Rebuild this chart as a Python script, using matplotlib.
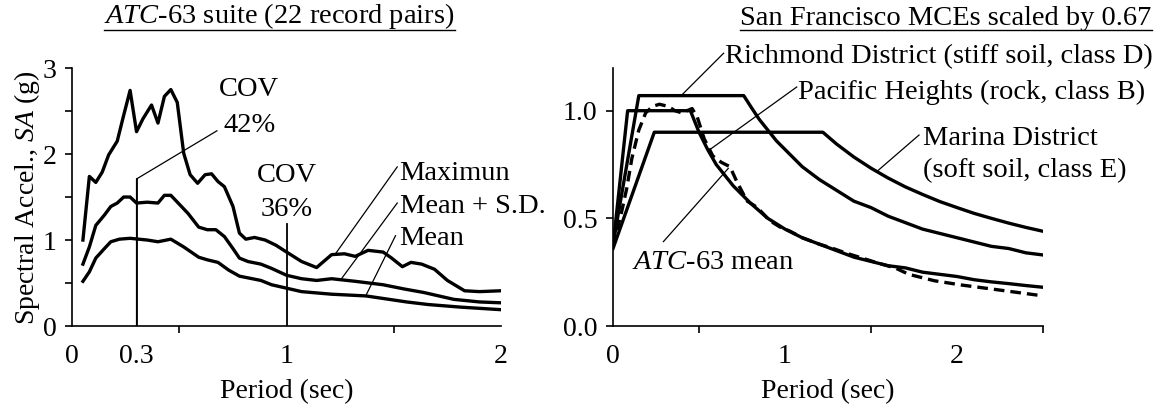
import matplotlib
matplotlib.use("Agg")
import matplotlib.pyplot as plt
from matplotlib.lines import Line2D

plt.rcParams['font.family'] = 'Liberation Serif'
plt.rcParams['mathtext.fontset'] = 'custom'
plt.rcParams['mathtext.rm'] = 'Liberation Serif'
plt.rcParams['mathtext.it'] = 'Liberation Serif:italic'

# ---- left panel: ATC-63 suite spectra ----
t_max = [0.05, 0.08, 0.11, 0.14, 0.17, 0.21, 0.24, 0.27, 0.30, 0.33, 0.37, 0.40,
         0.43, 0.46, 0.49, 0.52, 0.55, 0.585, 0.62, 0.65, 0.68, 0.71, 0.75, 0.78,
         0.81, 0.85, 0.90, 0.95, 1.00, 1.07, 1.14, 1.21, 1.27, 1.32, 1.38, 1.45,
         1.49, 1.54, 1.58, 1.63, 1.69, 1.75, 1.83, 1.90, 2.00]
sa_max = [1.00, 1.74, 1.67, 1.79, 1.99, 2.15, 2.45, 2.74, 2.26, 2.41, 2.57, 2.36,
          2.67, 2.75, 2.60, 2.01, 1.76, 1.66, 1.76, 1.77, 1.68, 1.62, 1.39, 1.08,
          1.01, 1.03, 1.00, 0.94, 0.86, 0.75, 0.68, 0.83, 0.84, 0.81, 0.88, 0.86,
          0.79, 0.69, 0.74, 0.72, 0.66, 0.53, 0.41, 0.40, 0.41]

t_msd = [0.05, 0.08, 0.11, 0.15, 0.18, 0.21, 0.24, 0.27, 0.30, 0.35, 0.40, 0.43,
         0.46, 0.54, 0.59, 0.63, 0.67, 0.71, 0.75, 0.78, 0.82, 0.88, 0.93, 1.00,
         1.07, 1.14, 1.21, 1.32, 1.45, 1.55, 1.64, 1.78, 1.90, 2.00]
sa_msd = [0.72, 0.92, 1.17, 1.29, 1.39, 1.43, 1.50, 1.50, 1.43, 1.44, 1.43, 1.52,
          1.52, 1.31, 1.15, 1.12, 1.12, 1.04, 0.90, 0.79, 0.75, 0.72, 0.67, 0.59,
          0.55, 0.53, 0.55, 0.52, 0.48, 0.43, 0.39, 0.31, 0.28, 0.27]

t_mean = [0.05, 0.08, 0.11, 0.15, 0.18, 0.22, 0.27, 0.35, 0.40, 0.46, 0.52, 0.59,
          0.63, 0.68, 0.73, 0.78, 0.84, 0.88, 0.93, 1.00, 1.07, 1.21, 1.37, 1.56,
          1.66, 1.81, 2.00]
sa_mean = [0.52, 0.63, 0.79, 0.90, 0.98, 1.01, 1.02, 1.00, 0.98, 1.01, 0.92, 0.80,
           0.77, 0.74, 0.65, 0.58, 0.55, 0.53, 0.48, 0.44, 0.40, 0.37, 0.35, 0.28,
           0.25, 0.22, 0.19]

# ---- right panel: San Francisco MCE spectra (x 0.67) ----
t_rich = [0.00, 0.15, 0.76, 0.80, 0.85, 0.90, 0.95, 1.00, 1.10, 1.20, 1.30, 1.40,
          1.50, 1.60, 1.70, 1.80, 1.90, 2.00, 2.10, 2.20, 2.30, 2.40, 2.50]
sa_rich = [0.38, 1.07, 1.07, 1.02, 0.96, 0.91, 0.86, 0.82, 0.74, 0.68, 0.63, 0.58,
           0.55, 0.51, 0.48, 0.45, 0.43, 0.41, 0.39, 0.37, 0.36, 0.34, 0.33]

t_pac = [0.00, 0.085, 0.45, 0.50, 0.55, 0.60, 0.65, 0.70, 0.80, 0.90, 1.00, 1.10,
         1.20, 1.30, 1.40, 1.50, 1.60, 1.70, 1.80, 1.90, 2.00, 2.10, 2.20, 2.30,
         2.40, 2.50]
sa_pac = [0.37, 1.00, 1.00, 0.90, 0.82, 0.75, 0.70, 0.65, 0.57, 0.50, 0.45, 0.41,
          0.38, 0.35, 0.32, 0.30, 0.28, 0.27, 0.25, 0.24, 0.23, 0.215, 0.205, 0.197,
          0.188, 0.18]

t_mar = [0.00, 0.24, 1.22, 1.30, 1.40, 1.50, 1.60, 1.70, 1.80, 1.90, 2.00, 2.10,
         2.20, 2.30, 2.40, 2.50]
sa_mar = [0.36, 0.90, 0.90, 0.845, 0.785, 0.733, 0.687, 0.646, 0.611, 0.578, 0.55,
          0.523, 0.50, 0.478, 0.458, 0.44]

t_atc = [0.00, 0.05, 0.08, 0.11, 0.15, 0.19, 0.23, 0.27, 0.32, 0.36, 0.40, 0.43,
         0.46, 0.49, 0.53, 0.58, 0.63, 0.68, 0.72, 0.78, 0.84, 0.91, 0.97, 1.03,
         1.10, 1.20, 1.28, 1.35, 1.47, 1.55, 1.64, 1.72, 1.87, 2.03, 2.22, 2.50]
sa_atc = [0.37, 0.53, 0.64, 0.78, 0.91, 0.99, 1.02, 1.03, 1.02, 1.00, 0.99, 1.00,
          1.01, 0.97, 0.87, 0.79, 0.76, 0.74, 0.67, 0.58, 0.55, 0.49, 0.46, 0.44,
          0.41, 0.38, 0.36, 0.34, 0.31, 0.29, 0.27, 0.24, 0.21, 0.19, 0.17, 0.14]

left_xticks = [0, 0.3, 1, 2]
left_xlabels = ['0', '0.3', '1', '2']
left_yticks = [0, 1, 2, 3]
right_xticks = [0, 1, 2]
right_yticks = [0.0, 0.5, 1.0]
right_ylabels = ['0.0', '0.5', '1.0']

FS = 20.5   # annotation text
TFS = 20    # ticks and axis labels
LW = 2.4
THIN = 0.9

fig = plt.figure(figsize=(11.61, 4.05), dpi=100)
ax1 = fig.add_axes([0.0622, 0.195, 0.3693, 0.637])
ax2 = fig.add_axes([0.528, 0.195, 0.3704, 0.638])

for ax in (ax1, ax2):
    ax.spines['top'].set_visible(False)
    ax.spines['right'].set_visible(False)
    ax.spines['left'].set_linewidth(1.2)
    ax.spines['bottom'].set_linewidth(1.2)
    ax.tick_params(axis='x', which='major', length=0, pad=13, labelsize=TFS)
    ax.tick_params(axis='x', which='minor', length=5, width=1.2, direction='out')
    ax.tick_params(axis='y', which='both', length=5, width=1.2, direction='out',
                   pad=6, labelsize=TFS)
    ax.set_xlabel('Period (sec)', fontsize=TFS, labelpad=7)

# left panel
ax1.plot(t_max, sa_max, color='black', lw=LW, solid_joinstyle='round')
ax1.plot(t_msd, sa_msd, color='black', lw=LW, solid_joinstyle='round')
ax1.plot(t_mean, sa_mean, color='black', lw=LW, solid_joinstyle='round')
ax1.set_xlim(0, 2)
ax1.set_ylim(0, 3)
ax1.set_xticks(left_xticks)
ax1.set_xticklabels(left_xlabels)
ax1.set_xticks([0, 0.5, 1, 1.5, 2], minor=True)
ax1.set_yticks(left_yticks)
ax1.set_yticks([0.5, 1.5, 2.5], minor=True)

ax1.plot([0.3, 0.3, 0.675], [0, 1.71, 2.27], color='black', lw=THIN)
ax1.plot([0.3, 0.3], [0, 1.71], color='black', lw=1.3)
ax1.plot([1.0, 1.0], [0, 1.19], color='black', lw=1.3)
ax1.text(0.826, 2.67, 'COV', fontsize=FS, ha='center', va='baseline')
ax1.text(0.826, 2.26, '42%', fontsize=FS, ha='center', va='baseline')
ax1.text(1.0, 1.68, 'COV', fontsize=FS, ha='center', va='baseline')
ax1.text(1.0, 1.28, '36%', fontsize=FS, ha='center', va='baseline')

ax1.plot([1.228, 1.516], [0.84, 1.85], color='black', lw=THIN)
ax1.plot([1.256, 1.516], [0.55, 1.43], color='black', lw=THIN)
ax1.plot([1.369, 1.508], [0.35, 1.05], color='black', lw=THIN)
ax1.text(1.527, 1.70, 'Maximun', fontsize=FS, va='baseline')
ax1.text(1.527, 1.31, 'Mean + S.D.', fontsize=FS, va='baseline')
ax1.text(1.527, 0.94, 'Mean', fontsize=FS, va='baseline')

# right panel
ax2.plot(t_rich, sa_rich, color='black', lw=LW)
ax2.plot(t_pac, sa_pac, color='black', lw=LW)
ax2.plot(t_mar, sa_mar, color='black', lw=LW)
ax2.plot(t_atc, sa_atc, color='black', lw=LW, ls=(0, (3.2, 1.8)))
ax2.set_xlim(0, 2.5)
ax2.set_ylim(0, 1.2)
ax2.set_xticks(right_xticks)
ax2.set_xticks([0, 0.5, 1, 1.5, 2, 2.5], minor=True)
ax2.set_yticks(right_yticks)
ax2.set_yticklabels(right_ylabels)

ax2.plot([0.40, 0.643], [1.073, 1.267], color='black', lw=THIN, clip_on=False)
ax2.plot([0.564, 1.068], [0.82, 1.11], color='black', lw=THIN, clip_on=False)
ax2.plot([1.533, 1.779], [0.717, 0.887], color='black', lw=THIN)
ax2.plot([0.670, 0.293], [0.732, 0.392], color='black', lw=THIN)
ax2.text(0.652, 1.223, 'Richmond District (stiff soil, class D)', fontsize=FS,
         va='baseline', clip_on=False)
ax2.text(1.076, 1.054, 'Pacific Heights (rock, class B)', fontsize=FS, va='baseline')
ax2.text(1.805, 0.84, 'Marina District', fontsize=FS, va='baseline')
ax2.text(1.80, 0.693, '(soft soil, class E)', fontsize=FS, va='baseline')
ax2.text(0.109, 0.265, r'$\mathit{ATC}$-$\mathit{63}$ mean', fontsize=FS, va='baseline')

# y label and titles
fig.text(27 / 1161, 1 - 198 / 405, r'Spectral Accel., $\mathit{SA}$ (g)',
         rotation=90, ha='center', va='center', fontsize=TFS)
t1 = fig.text(279.5 / 1161, 1 - 31 / 405, r'$\mathit{ATC}$-$\mathit{63}$ suite (22 record pairs)',
              ha='center', va='bottom', fontsize=FS)
t2 = fig.text(1151.5 / 1161, 1 - 31 / 405, 'San Francisco MCEs scaled by 0.67',
              ha='right', va='bottom', fontsize=FS)

fig.canvas.draw()
r = fig.canvas.get_renderer()
inv = fig.transFigure.inverted()
for t in (t1, t2):
    bb = t.get_window_extent(r)
    (x0, y0), (x1, _) = inv.transform([(bb.x0, bb.y0 + 1), (bb.x1, bb.y0 + 1)])
    fig.add_artist(Line2D([x0, x1], [y0, y0], color='black', lw=1.0,
                          transform=fig.transFigure))

fig.savefig('out.png', dpi=100)
